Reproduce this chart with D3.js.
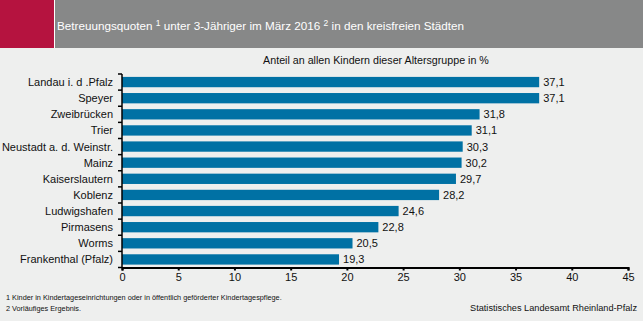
<!DOCTYPE html>
<html lang="de">
<head>
<meta charset="UTF-8">
<title>Betreuungsquoten unter 3-Jähriger</title>
<script src="https://d3js.org/d3.v7.min.js"></script>
<style>
  body { margin: 0; background: #eeefee; }
  svg { display: block; font-family: "Liberation Sans", Arial, sans-serif; }
</style>
</head>
<body>
<div id="chart"></div>
<script>
// Städte und Quoten (in %)
const cities = ["Landau i. d .Pfalz", "Speyer", "Zweibrücken", "Trier", "Neustadt a. d. Weinstr.",
  "Mainz", "Kaiserslautern", "Koblenz", "Ludwigshafen", "Pirmasens", "Worms", "Frankenthal (Pfalz)"];
const quotes = [37.1, 37.1, 31.8, 31.1, 30.3, 30.2, 29.7, 28.2, 24.6, 22.8, 20.5, 19.3];
const xTicks = [0, 5, 10, 15, 20, 25, 30, 35, 40, 45];

const W = 643, H = 321;
const svg = d3.select("#chart").append("svg").attr("width", W).attr("height", H);

svg.append("rect").attr("width", W).attr("height", H).attr("fill", "#eeefee");

// Kopfzeile
svg.append("rect").attr("x", 0).attr("y", 0).attr("width", W).attr("height", 48).attr("fill", "#878888");
svg.append("rect").attr("x", 0).attr("y", 0).attr("width", 54).attr("height", 48).attr("fill", "#b5133f");
svg.append("rect").attr("x", 54).attr("y", 0).attr("width", 1).attr("height", 48).attr("fill", "#ffffff");

const title = svg.append("text").attr("x", 57).attr("y", 30)
  .attr("fill", "#fff").attr("font-size", 11.7);
title.append("tspan").text("Betreuungsquoten ");
title.append("tspan").attr("dy", -4).attr("font-size", 8.5).text("1");
title.append("tspan").attr("dy", 4).text(" unter 3-Jähriger im März 2016 ");
title.append("tspan").attr("dy", -4).attr("font-size", 8.5).text("2");
title.append("tspan").attr("dy", 4).text(" in den kreisfreien Städten");

svg.append("text").attr("x", 376).attr("y", 64).attr("text-anchor", "middle")
  .attr("font-size", 10.7).attr("fill", "#111")
  .text("Anteil an allen Kindern dieser Altersgruppe in %");

const x = d3.scaleLinear().domain([0, 45]).range([122, 628]);
const y = d3.scaleBand().domain(cities).range([74, 267.5]).paddingInner(0.36).paddingOuter(0.18);

// Balken
svg.append("g").selectAll("rect").data(cities).join("rect")
  .attr("x", x(0))
  .attr("y", d => y(d))
  .attr("width", (d, i) => x(quotes[i]) - x(0))
  .attr("height", y.bandwidth())
  .attr("fill", "#0071a4");

// Werte
const fmt = v => v.toFixed(1).replace(".", ",");
svg.append("g").selectAll("text").data(cities).join("text")
  .attr("x", (d, i) => x(quotes[i]) + 4)
  .attr("y", d => y(d) + y.bandwidth() / 2 + 4)
  .attr("font-size", 11).attr("fill", "#111")
  .text((d, i) => fmt(quotes[i]));

// x-Achse
const xAxis = svg.append("g").attr("transform", "translate(0,267.5)")
  .call(d3.axisBottom(x).tickValues(xTicks).tickSize(3).tickPadding(3).tickFormat(d3.format("d")));
xAxis.select(".domain").attr("stroke", "#000").attr("stroke-width", 2);
xAxis.selectAll(".tick line").attr("stroke", "#000").attr("stroke-width", 2);
xAxis.selectAll("text").attr("font-size", 11).attr("fill", "#111")
  .attr("font-family", "Liberation Sans, Arial, sans-serif");

// y-Achse mit Strichen zwischen den Kategorien
const yAxis = svg.append("g").attr("transform", "translate(" + x(0) + ",0)");
yAxis.append("line").attr("x1", 0).attr("x2", 0).attr("y1", 74).attr("y2", 267.5)
  .attr("stroke", "#000").attr("stroke-width", 1.5);
const bounds = d3.range(cities.length + 1).map(i => 74 + i * (267.5 - 74) / cities.length);
yAxis.selectAll(".tk").data(bounds).join("line").attr("class", "tk")
  .attr("x1", -4).attr("x2", 0).attr("y1", d => d).attr("y2", d => d)
  .attr("stroke", "#000").attr("stroke-width", 1.5);
yAxis.selectAll("text").data(cities).join("text")
  .attr("x", -9)
  .attr("y", d => y(d) + y.bandwidth() / 2 + 4)
  .attr("text-anchor", "end").attr("font-size", 11).attr("fill", "#111")
  .text(d => d);

// Fußnoten und Quelle
svg.append("text").attr("x", 6).attr("y", 300).attr("font-size", 7.3).attr("fill", "#111")
  .text("1 Kinder in Kindertageseinrichtungen oder in öffentlich geförderter Kindertagespflege.");
svg.append("text").attr("x", 6).attr("y", 311).attr("font-size", 7.3).attr("fill", "#111")
  .text("2 Vorläufiges Ergebnis.");
svg.append("text").attr("x", 637).attr("y", 311).attr("text-anchor", "end")
  .attr("font-size", 9.2).attr("fill", "#111")
  .text("Statistisches Landesamt Rheinland-Pfalz");
</script>
</body>
</html>
